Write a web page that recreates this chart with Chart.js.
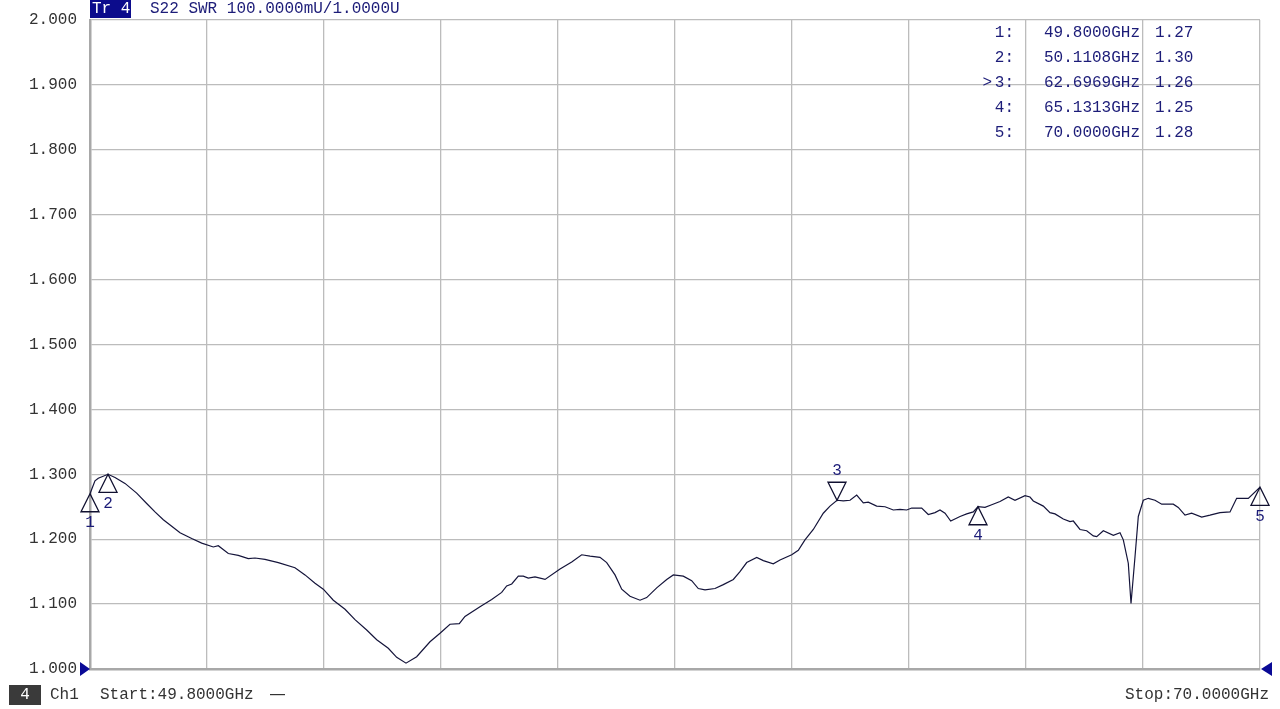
<!DOCTYPE html>
<html>
<head>
<meta charset="utf-8">
<script src="https://cdn.jsdelivr.net/npm/chart.js@4/dist/chart.umd.min.js"></script>
<style>
  html, body { margin: 0; padding: 0; background: #fff; }
  canvas { display: block; }
</style>
</head>
<body>
<canvas id="swrChart" width="1280" height="709"></canvas>
<script>
// trace: frequency (GHz) and SWR
const freqs = [
  49.800, 49.886, 49.943, 50.111, 50.232, 50.404, 50.606, 50.779, 50.922, 51.066,
  51.211, 51.354, 51.556, 51.729, 51.929, 52.015, 52.188, 52.360, 52.533, 52.649,
  52.821, 53.051, 53.339, 53.512, 53.685, 53.828, 54.001, 54.203, 54.375, 54.577,
  54.750, 54.950, 55.095, 55.256, 55.440, 55.670, 55.843, 56.015, 56.176, 56.274,
  56.533, 56.735, 56.908, 56.994, 57.081, 57.195, 57.281, 57.367, 57.483, 57.656,
  57.915, 58.117, 58.289, 58.433, 58.605, 58.721, 58.864, 58.980, 59.123, 59.296,
  59.411, 59.584, 59.757, 59.871, 60.043, 60.188, 60.302, 60.418, 60.591, 60.734,
  60.907, 61.022, 61.138, 61.311, 61.425, 61.597, 61.713, 61.915, 62.029, 62.144,
  62.288, 62.460, 62.576, 62.697, 62.806, 62.922, 63.037, 63.151, 63.237, 63.382,
  63.526, 63.669, 63.785, 63.900, 63.987, 64.159, 64.273, 64.389, 64.475, 64.562,
  64.660, 64.821, 64.936, 65.050, 65.131, 65.252, 65.368, 65.511, 65.654, 65.770,
  65.943, 66.029, 66.086, 66.259, 66.374, 66.461, 66.604, 66.720, 66.777, 66.892,
  67.008, 67.122, 67.181, 67.295, 67.468, 67.583, 67.640, 67.726, 67.773, 67.842,
  67.899, 67.985, 68.072, 68.187, 68.303, 68.503, 68.589, 68.705, 68.820, 68.993,
  69.137, 69.309, 69.482, 69.597, 69.798, 70.000
];
const swr = [
  1.270, 1.290, 1.294, 1.300, 1.295, 1.286, 1.271, 1.255, 1.242, 1.230,
  1.220, 1.210, 1.201, 1.194, 1.188, 1.190, 1.178, 1.175, 1.170, 1.171,
  1.169, 1.164, 1.156, 1.145, 1.132, 1.123, 1.106, 1.092, 1.076, 1.060,
  1.045, 1.032, 1.018, 1.009, 1.019, 1.042, 1.055, 1.069, 1.070, 1.081,
  1.096, 1.107, 1.118, 1.128, 1.131, 1.143, 1.143, 1.140, 1.142, 1.138,
  1.154, 1.165, 1.176, 1.174, 1.172, 1.164, 1.145, 1.123, 1.112, 1.106,
  1.110, 1.125, 1.138, 1.145, 1.143, 1.136, 1.124, 1.122, 1.124, 1.130,
  1.138, 1.150, 1.164, 1.172, 1.167, 1.162, 1.168, 1.176, 1.183, 1.199,
  1.215, 1.240, 1.251, 1.260, 1.259, 1.260, 1.268, 1.256, 1.257, 1.251,
  1.250, 1.245, 1.246, 1.245, 1.248, 1.248, 1.238, 1.241, 1.245, 1.240,
  1.228, 1.235, 1.239, 1.242, 1.250, 1.249, 1.253, 1.258, 1.265, 1.260,
  1.267, 1.265, 1.259, 1.251, 1.241, 1.239, 1.231, 1.227, 1.228, 1.215,
  1.213, 1.205, 1.204, 1.213, 1.206, 1.210, 1.199, 1.163, 1.101, 1.173,
  1.235, 1.260, 1.263, 1.260, 1.254, 1.254, 1.249, 1.237, 1.240, 1.234,
  1.237, 1.241, 1.242, 1.263, 1.263, 1.280
];

// markers
const markerNames = ["1", "2", "3", "4", "5"];
const markerFreqs = [49.8, 50.1108, 62.6969, 65.1313, 70.0];
const markerVals = [1.27, 1.30, 1.26, 1.25, 1.28];
const markerFreqText = ["49.8000GHz", "50.1108GHz", "62.6969GHz", "65.1313GHz", "70.0000GHz"];
const markerValText = ["1.27", "1.30", "1.26", "1.25", "1.28"];
const activeMarker = 2;

// grid / tick labels
const xGrid = [49.8, 51.82, 53.84, 55.86, 57.88, 59.9, 61.92, 63.94, 65.96, 67.98, 70.0];
const yGrid = [1.0, 1.1, 1.2, 1.3, 1.4, 1.5, 1.6, 1.7, 1.8, 1.9, 2.0];
const yTickLabels = ["1.000", "1.100", "1.200", "1.300", "1.400", "1.500", "1.600", "1.700", "1.800", "1.900", "2.000"];

const traceTitle = "Tr 4";
const traceInfo = "S22 SWR 100.0000mU/1.0000U";
const startText = "Start:49.8000GHz";
const stopText = "Stop:70.0000GHz";

const MONO = "'Liberation Mono', 'DejaVu Sans Mono', monospace";
const NAVY = "#1c1c78";
const GRID = "#bcbcbc";

const vnaOverlay = {
  id: "vnaOverlay",
  afterDraw(chart) {
    const ctx = chart.ctx;
    const xs = chart.scales.x;
    const ys = chart.scales.y;
    const area = chart.chartArea;
    ctx.save();

    // header
    ctx.font = "16px " + MONO;
    ctx.textBaseline = "middle";
    ctx.fillStyle = "#0c0c8c";
    ctx.fillRect(area.left, 0, 41, 18);
    ctx.fillStyle = "#fff";
    ctx.textAlign = "left";
    ctx.fillText(traceTitle, area.left + 2, 9);
    ctx.fillStyle = NAVY;
    ctx.fillText(traceInfo, area.left + 60, 9);

    // marker triangles
    ctx.lineWidth = 1.3;
    ctx.strokeStyle = "#101030";
    markerFreqs.forEach((f, i) => {
      const px = xs.getPixelForValue(f);
      const py = ys.getPixelForValue(markerVals[i]);
      const dir = i === activeMarker ? -1 : 1;
      ctx.beginPath();
      ctx.moveTo(px, py);
      ctx.lineTo(px - 9, py + dir * 18);
      ctx.lineTo(px + 9, py + dir * 18);
      ctx.closePath();
      ctx.stroke();
      ctx.fillStyle = NAVY;
      ctx.textAlign = "center";
      ctx.fillText(markerNames[i], px, py + dir * 29);
    });

    // marker table
    markerNames.forEach((m, i) => {
      const y = 33 + i * 25;
      ctx.fillStyle = NAVY;
      ctx.textAlign = "right";
      ctx.fillText(m + ":", 1014, y);
      if (i === activeMarker) {
        ctx.fillText(">", 992, y);
      }
      ctx.textAlign = "left";
      ctx.fillText(markerFreqText[i], 1044, y);
      ctx.fillText(markerValText[i], 1155, y);
    });

    // reference arrows
    const refY = ys.getPixelForValue(1.0);
    ctx.fillStyle = "#0a0a96";
    ctx.beginPath();
    ctx.moveTo(80, refY - 7);
    ctx.lineTo(90, refY);
    ctx.lineTo(80, refY + 7);
    ctx.closePath();
    ctx.fill();
    ctx.beginPath();
    ctx.moveTo(1272, refY - 7);
    ctx.lineTo(1261, refY);
    ctx.lineTo(1272, refY + 7);
    ctx.closePath();
    ctx.fill();

    // footer
    ctx.fillStyle = "#3a3a3a";
    ctx.fillRect(9, 685, 32, 20);
    ctx.fillStyle = "#fff";
    ctx.textAlign = "center";
    ctx.fillText("4", 25, 695);
    ctx.fillStyle = "#333";
    ctx.textAlign = "left";
    ctx.fillText("Ch1", 50, 695);
    ctx.fillText(startText, 100, 695);
    ctx.fillRect(270, 694, 15, 1.2);
    ctx.textAlign = "right";
    ctx.fillText(stopText, 1269, 695);

    ctx.restore();
  }
};

const ctx = document.getElementById("swrChart").getContext("2d");
new Chart(ctx, {
  type: "line",
  data: {
    datasets: [{
      label: "S22 SWR",
      data: freqs.map((f, i) => ({ x: f, y: swr[i] })),
      borderColor: "#14143a",
      borderWidth: 1.2,
      pointRadius: 0,
      tension: 0,
      fill: false
    }]
  },
  options: {
    responsive: false,
    animation: false,
    layout: { padding: { left: 0, top: 20, right: 20, bottom: 40 } },
    plugins: { legend: { display: false }, tooltip: { enabled: false } },
    scales: {
      x: {
        type: "linear",
        min: 49.8,
        max: 70.0,
        afterBuildTicks: (scale) => { scale.ticks = xGrid.map(v => ({ value: v })); },
        afterFit: (scale) => {
          scale.height = 0;
          scale.paddingLeft = 0;
          scale.paddingRight = 0;
        },
        ticks: { display: false },
        grid: { color: GRID, lineWidth: 1.3, drawTicks: false },
        border: { color: "#a8a8a8", width: 2.5 }
      },
      y: {
        type: "linear",
        min: 1.0,
        max: 2.0,
        afterBuildTicks: (scale) => { scale.ticks = yGrid.map(v => ({ value: v })); },
        afterFit: (scale) => {
          scale.width = 90;
          scale.paddingTop = 0;
          scale.paddingBottom = 0;
        },
        ticks: {
          padding: 13,
          color: "#333",
          font: { family: MONO, size: 16 },
          callback: (v, i) => yTickLabels[i]
        },
        grid: { color: GRID, lineWidth: 1.3, drawTicks: false },
        border: { color: "#a8a8a8", width: 2.5 }
      }
    }
  },
  plugins: [vnaOverlay]
});
</script>
</body>
</html>
